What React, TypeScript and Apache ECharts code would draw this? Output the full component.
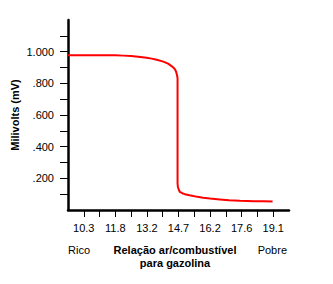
import React, { useEffect, useRef } from "react";
import * as echarts from "echarts";

// lambda (air/fuel ratio relative to stoichiometric 14.7) vs sensor output (mV)
const lambdaValues = [
  0.65, 0.7, 0.75, 0.8, 0.825, 0.85, 0.872, 0.899, 0.915, 0.931, 0.952, 0.967, 0.978,
  0.985, 0.989, 0.992, 0.994, 0.996, 0.997, 0.997, 0.997, 0.998, 1.001, 1.004, 1.012,
  1.02, 1.035, 1.047, 1.06, 1.078, 1.1, 1.131, 1.16, 1.194, 1.24, 1.27, 1.298,
];
const millivolts = [
  0.978, 0.978, 0.978, 0.977, 0.975, 0.972, 0.968, 0.962, 0.956, 0.949, 0.937, 0.924, 0.909,
  0.897, 0.888, 0.875, 0.862, 0.845, 0.83, 0.5, 0.17, 0.145, 0.128, 0.115, 0.106,
  0.1, 0.093, 0.088, 0.083, 0.077, 0.072, 0.067, 0.062, 0.058, 0.056, 0.055, 0.054,
];

const xTickValues = [0.7, 0.75, 0.8, 0.85, 0.9, 0.95, 1.0, 1.05, 1.1, 1.15, 1.2, 1.25, 1.3];
const xLabelValues = [0.7, 0.8, 0.9, 1.0, 1.1, 1.2, 1.3];
const xTickLabels = ["10.3", "11.8", "13.2", "14.7", "16.2", "17.6", "19.1"];

const yTickValues = [0.1, 0.2, 0.3, 0.4, 0.5, 0.6, 0.7, 0.8, 0.9, 1.0, 1.1];
const yLabelValues = [0.2, 0.4, 0.6, 0.8, 1.0];
const yTickLabels = [".200", ".400", ".600", ".800", "1.000"];

const yAxisTitle = "Milivolts (mV)";
const xAxisTitle = "Relação ar/combustível\npara gazolina";
const leftNote = "Rico";
const rightNote = "Pobre";

const FONT = "'Liberation Sans', Arial, Helvetica, sans-serif";

function lookup(values: number[], labels: string[], v: number): string {
  const i = values.findIndex((x) => Math.abs(x - v) < 1e-6);
  return i >= 0 ? labels[i] : "";
}

export default function App() {
  const ref = useRef<HTMLDivElement>(null);
  useEffect(() => {
    document.body.style.margin = "0";
    if (!ref.current) return;
    const chart = echarts.init(ref.current, null, { renderer: "svg" });
    chart.setOption({
      animation: false,
      backgroundColor: "#ffffff",
      grid: { left: 68, top: 20, right: 44, bottom: 74, containLabel: false },
      xAxis: {
        type: "value",
        min: 0.65,
        max: 1.35,
        axisLine: { show: true, lineStyle: { color: "#000", width: 2.5 } },
        axisTick: {
          show: true,
          length: 7,
          customValues: xTickValues,
          lineStyle: { color: "#000", width: 1 },
        },
        axisLabel: {
          customValues: xLabelValues,
          margin: 12,
          color: "#000",
          fontFamily: FONT,
          fontSize: 11,
          formatter: (v: number) => lookup(xLabelValues, xTickLabels, v),
        },
        splitLine: { show: false },
      },
      yAxis: {
        type: "value",
        min: 0,
        max: 1.2,
        axisLine: { show: true, lineStyle: { color: "#000", width: 2.5 } },
        axisTick: {
          show: true,
          length: 8,
          customValues: yTickValues,
          lineStyle: { color: "#000", width: 1 },
        },
        axisLabel: {
          customValues: yLabelValues,
          margin: 14,
          color: "#000",
          fontFamily: FONT,
          fontSize: 11,
          formatter: (v: number) => lookup(yLabelValues, yTickLabels, v),
        },
        splitLine: { show: false },
      },
      series: [
        {
          type: "line",
          data: lambdaValues.map((x, i) => [x, millivolts[i]]),
          showSymbol: false,
          smooth: false,
          lineStyle: { color: "#ff0000", width: 2 },
        },
      ],
      graphic: [
        {
          type: "text",
          x: 15,
          y: 115,
          rotation: Math.PI / 2,
          style: {
            text: yAxisTitle,
            fill: "#000",
            font: `bold 11px ${FONT}`,
            align: "center",
            verticalAlign: "middle",
          },
        },
        {
          type: "text",
          x: 68,
          y: 250,
          style: {
            text: leftNote,
            fill: "#000",
            font: `11px ${FONT}`,
            align: "left",
            verticalAlign: "middle",
          },
        },
        {
          type: "text",
          x: 287,
          y: 250,
          style: {
            text: rightNote,
            fill: "#000",
            font: `11px ${FONT}`,
            align: "right",
            verticalAlign: "middle",
          },
        },
        {
          type: "text",
          x: 175,
          y: 256.5,
          style: {
            text: xAxisTitle,
            fill: "#000",
            font: `bold 11px ${FONT}`,
            align: "center",
            verticalAlign: "middle",
            lineHeight: 13,
          },
        },
      ],
    });
    return () => chart.dispose();
  }, []);
  return <div ref={ref} style={{ width: 333, height: 284 }} />;
}
